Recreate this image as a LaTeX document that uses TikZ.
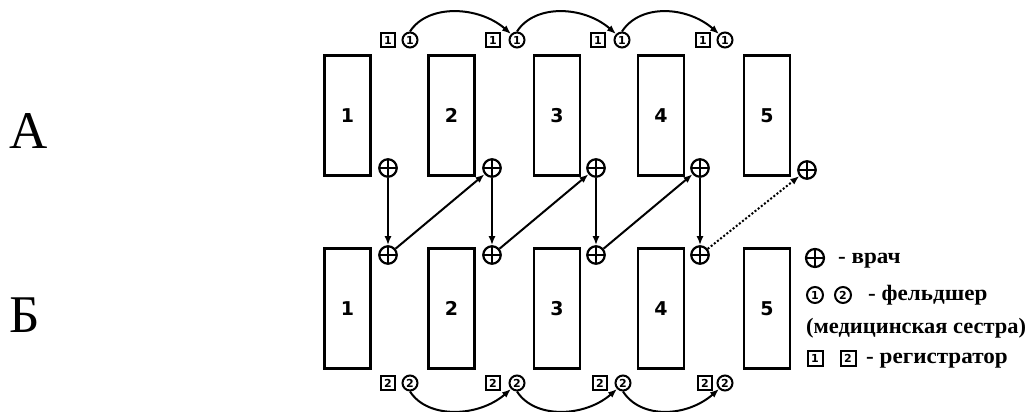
\documentclass[tikz,border=0pt]{standalone}
\usepackage{fontspec}
\setmainfont{Liberation Serif}
\newfontfamily\numfont{DejaVu Sans}
\usetikzlibrary{arrows.meta}
\begin{document}
\begin{tikzpicture}[x=1pt,y=-1pt,
  room/.style={draw, line width=2.8pt, minimum width=46pt, minimum height=120.5pt, inner sep=0pt,
    font=\numfont\bfseries\fontsize{19}{19}\selectfont},
  doc/.style={circle, draw, line width=2.2pt, minimum size=#1, inner sep=0pt,
    path picture={\draw[line width=1.8pt]
      (path picture bounding box.north) -- (path picture bounding box.south)
      (path picture bounding box.west) -- (path picture bounding box.east);}},
  doc/.default=17.5pt,
  nurse/.style={circle, draw, line width=2pt, minimum size=#1, inner sep=0pt,
    font=\numfont\bfseries\fontsize{11}{11}\selectfont},
  nurse/.default=15pt,
  reg/.style={rectangle, draw, line width=2pt, minimum size=#1, inner sep=0pt,
    font=\numfont\bfseries\fontsize{11}{11}\selectfont},
  reg/.default=13.5pt,
  arr/.style={line width=2pt, -{Latex[length=9pt,width=7pt]}},
  dotarr/.style={arr, dotted},
  legtext/.style={anchor=base west, inner sep=0pt, font=\bfseries\fontsize{22}{22}\selectfont},
  bigletter/.style={anchor=base west, inner sep=0pt, font=\fontsize{53}{53}\selectfont}
]
\useasboundingbox (0,0) rectangle (1031,412);
\fill[white] (0,0) rectangle (1031,412);

% row labels
\node[bigletter] (la) at (9,148) {А};
\node[bigletter] (lb) at (9,332) {Б};

% rooms
\foreach \i/\x in {1/347.5,2/451.5,3/557,4/661,5/767}{
  \node[room] (ta\i) at (\x,115.5) {\i};
  \node[room] (tb\i) at (\x,308.5) {\i};
}

% doctors
\foreach \i/\x in {1/388,2/492,3/596,4/700}{
  \node[doc] (dt\i) at (\x,168) {};
  \node[doc] (db\i) at (\x,255) {};
}
\node[doc] (dt5) at (807,170) {};

% top markers
\foreach \i/\xs/\xc in {1/388/410,2/493/517,3/598/622,4/703/725}{
  \node[reg] (rt\i) at (\xs,40) {1};
  \node[nurse] (nt\i) at (\xc,40) {1};
}
% bottom markers
\foreach \i/\xs/\xc in {1/388/410,2/493/517,3/600/623,4/705/725}{
  \node[reg] (rb\i) at (\xs,383) {2};
  \node[nurse] (nb\i) at (\xc,383) {2};
}

% arcs between the feldsher positions
\foreach \i/\j in {1/2,2/3,3/4}{
  \draw[arr] (nt\i.north) .. controls +(18,-28) and +(-32,-28) .. (nt\j.north west);
  \draw[arr] (nb\i.south) .. controls +(18,28) and +(-32,28) .. (nb\j.south west);
}

% doctor route
\foreach \i/\j in {1/2,2/3,3/4}{
  \draw[arr] (dt\i) -- (db\i);
  \draw[arr] (db\i) -- (dt\j);
}
\draw[arr] (dt4) -- (db4);
\draw[dotarr] (db4) -- (dt5);

% legend
\node[doc=18pt] (ld) at (815,258) {};
\node[legtext] (lt1) at (838,263) {\scalebox{1.05}[1]{- врач}};
\node[nurse=16pt] (ln1) at (815,295) {1};
\node[nurse=16pt] (ln2) at (843,295) {2};
\node[legtext] (lt2) at (868,300) {\scalebox{1.05}[1]{- фельдшер}};
\node[legtext] (lt3) at (806,333) {\scalebox{1.02}[1]{(медицинская сестра)}};
\node[reg=15pt] (lr1) at (815,358) {1};
\node[reg=15pt] (lr2) at (848,358) {2};
\node[legtext] (lt4) at (866,363) {\scalebox{1.05}[1]{- регистратор}};
\end{tikzpicture}
\end{document}
